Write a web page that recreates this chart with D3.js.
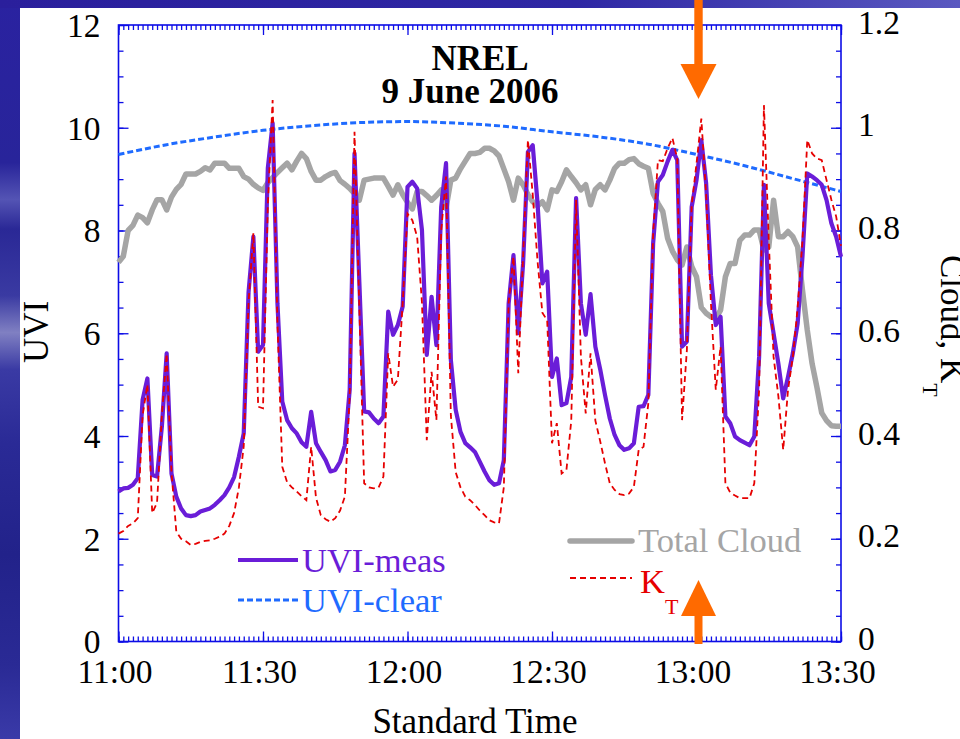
<!DOCTYPE html>
<html>
<head>
<meta charset="utf-8">
<script src="https://cdn.jsdelivr.net/npm/d3@7"></script>
<style>
body{margin:0;background:#fff;overflow:hidden;}
svg text{font-family:"Liberation Serif","Times New Roman",serif;}
</style>
</head>
<body>
<div id="chart"></div>
<script>
// one sample per minute, 11:00 .. 13:30 standard time
const uviMeas = [
 2.92,2.98,2.99,3.05,3.18,4.70,5.12,3.24,3.21,4.18,
 5.61,3.27,2.82,2.59,2.46,2.44,2.46,2.53,2.56,2.59,
 2.66,2.75,2.85,3.00,3.20,3.60,4.05,6.80,7.88,5.64,
 5.77,9.21,10.09,6.58,4.67,4.31,4.15,4.05,3.88,3.79,
 4.47,3.86,3.69,3.53,3.31,3.34,3.50,3.82,4.90,9.50,
 7.00,4.48,4.46,4.34,4.25,4.38,6.42,5.97,6.16,6.52,
 8.85,8.95,8.82,8.01,5.58,6.71,5.77,8.46,9.31,5.48,
 4.51,4.08,3.86,3.78,3.69,3.50,3.31,3.14,3.05,3.08,
 3.53,6.58,7.52,6.00,7.36,9.53,9.66,8.53,6.97,7.20,
 5.15,5.51,4.60,4.64,5.15,8.63,6.58,5.97,6.76,5.74,
 5.30,4.80,4.34,4.02,3.82,3.73,3.76,3.86,4.57,4.58,
 4.80,7.75,8.95,9.08,9.34,9.57,9.37,5.74,5.84,8.46,
 8.98,9.76,8.92,7.13,6.16,6.32,4.38,4.25,3.99,3.92,
 3.87,3.82,3.99,5.54,8.89,6.58,6.00,5.41,4.73,5.15,
 5.61,6.19,7.49,9.11,9.05,8.98,8.89,8.59,8.14,7.88,
 7.49];

const totalCloud = [
 0.738,0.75,0.80,0.81,0.83,0.825,0.815,0.84,0.86,0.86,
 0.84,0.865,0.88,0.89,0.91,0.91,0.91,0.915,0.922,0.918,
 0.931,0.931,0.931,0.921,0.921,0.921,0.905,0.90,0.89,0.883,
 0.878,0.893,0.903,0.913,0.922,0.931,0.918,0.935,0.950,0.940,
 0.915,0.898,0.898,0.905,0.91,0.913,0.897,0.89,0.882,0.872,
 0.859,0.898,0.90,0.902,0.902,0.902,0.886,0.869,0.889,0.87,
 0.855,0.842,0.876,0.876,0.868,0.859,0.868,0.879,0.843,0.898,
 0.902,0.92,0.935,0.950,0.950,0.952,0.960,0.960,0.955,0.945,
 0.92,0.895,0.859,0.902,0.889,0.87,0.856,0.848,0.856,0.840,
 0.879,0.876,0.895,0.918,0.905,0.893,0.879,0.889,0.850,0.880,
 0.889,0.879,0.898,0.921,0.931,0.931,0.938,0.940,0.93,0.925,
 0.921,0.872,0.853,0.837,0.785,0.760,0.743,0.733,0.768,0.730,
 0.710,0.650,0.639,0.632,0.629,0.645,0.710,0.736,0.736,0.781,
 0.791,0.791,0.801,0.801,0.762,0.768,0.859,0.788,0.788,0.798,
 0.788,0.768,0.684,0.606,0.541,0.495,0.445,0.43,0.42,0.419,
 0.419];

const kt = [
 0.21,0.215,0.225,0.23,0.24,0.44,0.50,0.25,0.27,0.44,
 0.56,0.33,0.214,0.20,0.195,0.188,0.19,0.194,0.196,0.197,
 0.20,0.204,0.21,0.225,0.25,0.30,0.38,0.66,0.795,0.457,
 0.454,0.85,1.054,0.62,0.34,0.31,0.30,0.292,0.283,0.275,
 0.379,0.28,0.246,0.238,0.233,0.24,0.255,0.282,0.48,0.992,
 0.65,0.308,0.30,0.298,0.30,0.321,0.561,0.496,0.51,0.658,
 0.833,0.82,0.788,0.66,0.392,0.525,0.431,0.80,0.905,0.44,
 0.33,0.30,0.282,0.275,0.266,0.255,0.246,0.236,0.232,0.23,
 0.30,0.66,0.749,0.522,0.75,0.976,0.87,0.74,0.64,0.625,
 0.386,0.425,0.327,0.334,0.43,0.86,0.554,0.444,0.561,0.43,
 0.39,0.347,0.308,0.295,0.287,0.285,0.288,0.301,0.373,0.379,
 0.464,0.795,0.937,0.935,0.96,0.98,0.94,0.431,0.567,0.85,
 0.93,1.018,0.87,0.658,0.49,0.574,0.308,0.29,0.284,0.279,
 0.279,0.279,0.308,0.49,1.044,0.782,0.554,0.477,0.373,0.49,
 0.554,0.65,0.78,0.976,0.95,0.94,0.937,0.898,0.86,0.827,
 0.77];

// clear-sky model, read every 10 minutes
const clearMinutes = [0,10,20,30,40,50,60,70,80,90,100,110,120,130,140,150];
const uviClear = [9.48,9.67,9.82,9.95,10.04,10.10,10.12,10.09,10.03,9.92,9.82,9.68,9.48,9.26,9.01,8.76];

const uviTicks = [0,2,4,6,8,10,12];
const rightTicks = [0,0.2,0.4,0.6,0.8,1,1.2];
const arrowMinute = 120; // 13:00

const margin = {left:118.5, top:25};
const width = 841 - 118.5;
const height = 641.5 - 25;
const axisColor = "#0d0de6";

let svg = d3.select("#chart").append("svg")
    .attr("width", 960)
    .attr("height", 739);

// slide background strips
let defs = svg.append("defs");
let gTop = defs.append("linearGradient").attr("id","gTop");
gTop.append("stop").attr("offset","0").attr("stop-color","#2a1f9c");
gTop.append("stop").attr("offset","0.6").attr("stop-color","#2e27a4");
gTop.append("stop").attr("offset","1").attr("stop-color","#5a58c0");
let gLeft = defs.append("linearGradient").attr("id","gLeft")
    .attr("x1",0).attr("x2",0).attr("y1",0).attr("y2",1);
[[0,"#2a22a0"],[0.22,"#28249a"],[0.27,"#5454b4"],[0.31,"#2a2896"],[0.4,"#3a3aa2"],
 [0.45,"#8080c2"],[0.5,"#3a3aa4"],[0.6,"#2a2a96"],[0.75,"#22228a"],[0.9,"#2a2a95"],[1,"#3a3aa8"]]
  .forEach(s => gLeft.append("stop").attr("offset",s[0]).attr("stop-color",s[1]));
svg.append("rect").attr("x",0).attr("y",0).attr("width",20).attr("height",739).attr("fill","url(#gLeft)");
svg.append("rect").attr("x",0).attr("y",0).attr("width",960).attr("height",8).attr("fill","url(#gTop)");

let graph = svg.append("g")
    .attr("transform", "translate(" + margin.left + "," + margin.top + ")");

const t0 = new Date(2006, 5, 9, 11, 0);
const minute = i => d3.timeMinute.offset(t0, i);

let x = d3.scaleTime().domain([t0, minute(150)]).range([0, width]);
let yL = d3.scaleLinear().domain([0, 12]).range([height, 0]);
let yR = d3.scaleLinear().domain([0, 1.2]).range([height, 0]);

// axes, ticks pointing inward
function styleAxis(g) {
    g.select(".domain").remove();
    g.selectAll("line").attr("stroke", axisColor).attr("stroke-width", 1.3);
    g.selectAll("text").attr("fill", "#000").style("font-size", "33.5px")
        .style("font-family", '"Liberation Serif","Times New Roman",serif');
}
const minorTimes = d3.timeMinute.every(1).range(t0, minute(151));
const majorTimes = d3.timeMinute.every(30).range(t0, minute(151));
const minorUvi = d3.range(0, 12.01, 0.5);

graph.append("g").attr("transform", "translate(0," + height + ")")
    .call(d3.axisBottom(x).tickValues(minorTimes).tickSize(-5).tickFormat(""))
    .call(styleAxis);
graph.append("g").attr("transform", "translate(0," + height + ")")
    .call(d3.axisBottom(x).tickValues(majorTimes).tickSize(-10).tickPadding(18)
        .tickFormat(d3.timeFormat("%H:%M")))
    .call(styleAxis)
    .selectAll("text").attr("dx", "-4");
graph.append("g")
    .call(d3.axisTop(x).tickValues(minorTimes).tickSize(-5).tickFormat(""))
    .call(styleAxis);
graph.append("g")
    .call(d3.axisTop(x).tickValues(majorTimes).tickSize(-10).tickFormat(""))
    .call(styleAxis);

graph.append("g")
    .call(d3.axisLeft(yL).tickValues(minorUvi).tickSize(-5).tickFormat(""))
    .call(styleAxis);
graph.append("g")
    .call(d3.axisLeft(yL).tickValues(uviTicks).tickSize(-10).tickPadding(18).tickFormat(d3.format("d")))
    .call(styleAxis)
    .selectAll("text").attr("dy", "0.34em");
graph.append("g").attr("transform", "translate(" + width + ",0)")
    .call(d3.axisRight(yL).tickValues(minorUvi).tickSize(-5).tickFormat(""))
    .call(styleAxis);
graph.append("g").attr("transform", "translate(" + width + ",0)")
    .call(d3.axisRight(yR).tickValues(rightTicks).tickSize(-10).tickPadding(17).tickFormat(d3.format("~g")))
    .call(styleAxis)
    .selectAll("text").attr("dy", "0.24em");

graph.append("rect")
    .attr("width", width).attr("height", height)
    .attr("fill", "none").attr("stroke", axisColor).attr("stroke-width", 1.6);

// series
let byMinute = scale => d3.line().x((d, i) => x(minute(i))).y(d => scale(d));

graph.append("path").datum(totalCloud)
    .attr("d", byMinute(yR))
    .attr("fill", "none").attr("stroke", "#a5a5a5").attr("stroke-width", 5.5)
    .attr("stroke-linejoin", "round");

graph.append("path").datum(uviClear)
    .attr("d", d3.line().curve(d3.curveMonotoneX)
        .x((d, i) => x(minute(clearMinutes[i]))).y(d => yL(d)))
    .attr("fill", "none").attr("stroke", "#1f6bff").attr("stroke-width", 3)
    .attr("stroke-dasharray", "6,3");

graph.append("path").datum(uviMeas)
    .attr("d", byMinute(yL))
    .attr("fill", "none").attr("stroke", "#6a1dd8").attr("stroke-width", 4.2)
    .attr("stroke-linejoin", "round");

graph.append("path").datum(kt)
    .attr("d", byMinute(yR))
    .attr("fill", "none").attr("stroke", "#e60000").attr("stroke-width", 1.8)
    .attr("stroke-dasharray", "6,4");

// title
svg.append("text").attr("x", 480).attr("y", 70).attr("text-anchor", "middle")
    .style("font-size", "35px").style("font-weight", "bold").text("NREL");
svg.append("text").attr("x", 470).attr("y", 103).attr("text-anchor", "middle")
    .style("font-size", "35px").style("font-weight", "bold").text("9 June 2006");

// axis titles
svg.append("text").attr("x", 475).attr("y", 733).attr("text-anchor", "middle")
    .style("font-size", "35px").text("Standard Time");
svg.append("text").attr("transform", "translate(48,332) rotate(-90)").attr("text-anchor", "middle")
    .style("font-size", "35px").text("UVI");
let rt = svg.append("text").attr("transform", "translate(941,255) rotate(90)")
    .style("font-size", "35px");
rt.append("tspan").text("Cloud, K");
rt.append("tspan").attr("dy", 18).style("font-size", "22px").text("T");

// legend
svg.append("line").attr("x1", 238).attr("x2", 298).attr("y1", 560).attr("y2", 560)
    .attr("stroke", "#6a1dd8").attr("stroke-width", 4.2);
svg.append("text").attr("x", 302).attr("y", 572).attr("fill", "#6a1dd8")
    .style("font-size", "34.5px").text("UVI-meas");
svg.append("line").attr("x1", 238).attr("x2", 298).attr("y1", 600).attr("y2", 600)
    .attr("stroke", "#1f6bff").attr("stroke-width", 3).attr("stroke-dasharray", "6,3");
svg.append("text").attr("x", 302).attr("y", 612).attr("fill", "#1f6bff")
    .style("font-size", "34.5px").text("UVI-clear");
svg.append("line").attr("x1", 570).attr("x2", 632).attr("y1", 541).attr("y2", 541)
    .attr("stroke", "#a5a5a5").attr("stroke-width", 5.5).attr("stroke-linecap", "round");
svg.append("text").attr("x", 638).attr("y", 552).attr("fill", "#a5a5a5")
    .style("font-size", "34.5px").text("Total Cloud");
svg.append("line").attr("x1", 570).attr("x2", 632).attr("y1", 578).attr("y2", 578)
    .attr("stroke", "#e60000").attr("stroke-width", 1.8).attr("stroke-dasharray", "6,4");
let kl = svg.append("text").attr("x", 640).attr("y", 593).attr("fill", "#e60000")
    .style("font-size", "34.5px");
kl.append("tspan").text("K");
kl.append("tspan").attr("dy", 21).style("font-size", "22px").text("T");

// orange arrows marking 13:00
let cx = margin.left + x(minute(arrowMinute)) + 2;
svg.append("rect").attr("x", cx - 4.2).attr("y", 0).attr("width", 8.4).attr("height", 66).attr("fill", "#ff6a00");
svg.append("polygon").attr("points", [[cx - 18, 64], [cx + 18, 64], [cx, 99]].join(" ")).attr("fill", "#ff6a00");
svg.append("polygon").attr("points", [[cx, 580], [cx - 17.5, 616], [cx + 17.5, 616]].join(" ")).attr("fill", "#ff6a00");
svg.append("rect").attr("x", cx - 4).attr("y", 615).attr("width", 8).attr("height", 29).attr("fill", "#ff6a00");
</script>
</body>
</html>
